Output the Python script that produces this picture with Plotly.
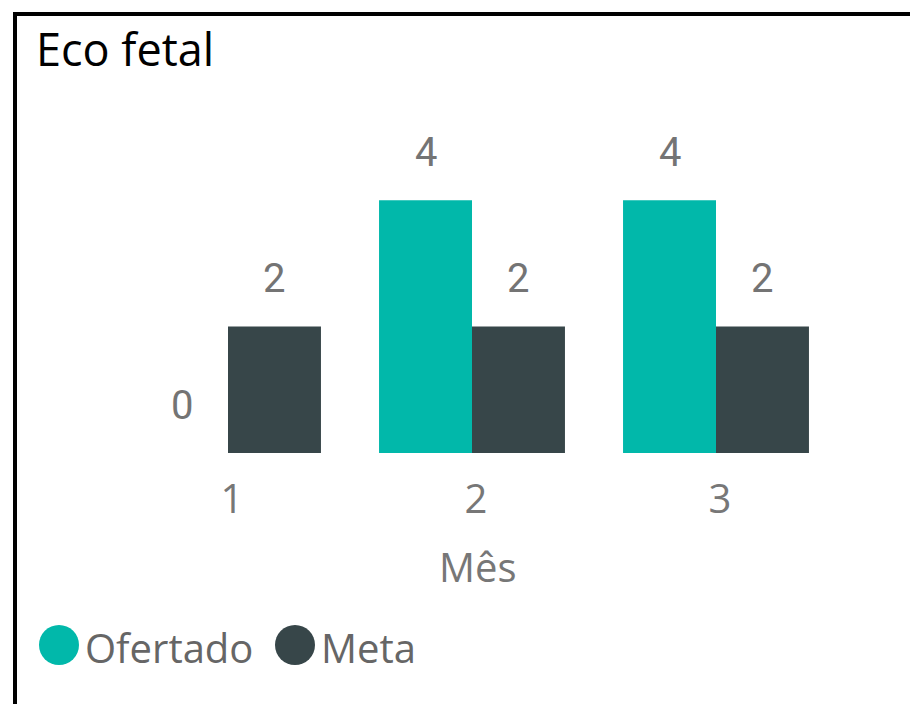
import plotly.graph_objects as go

meses = ["1", "2", "3"]
ofertado = [0, 4, 4]
meta = [2, 2, 2]
series_names = ["Ofertado", "Meta"]
series_colors = ["#01B8AA", "#374649"]
x_title = "Mês"

OFF = 8  # default page body margin
W, H = 918 - OFF, 704 - OFF
# target plot area in screen pixels: x 106..838, y 137..453
L, T = 106 - OFF, 137 - OFF
R = W - (838 - OFF)
B = H - (453 - OFF)
pw, ph = W - L - R, H - T - B

def px_x(p):
    return (p - OFF - L) / pw

def px_y(p):
    return (H - B - (p - OFF)) / ph

fig = go.Figure()
for name, vals, col in zip(series_names, [ofertado, meta], series_colors):
    fig.add_trace(go.Bar(x=meses, y=vals, name=name, marker=dict(color=col, line=dict(width=0)),
                         showlegend=False, hoverinfo="skip"))

half = pw / 3 * (1 - 0.238) / 4
for vals, sh in [(ofertado, -half), (meta, half)]:
    for i, v in enumerate(vals):
        fig.add_annotation(x=i, y=v, xref="x", yref="y", text=str(v), showarrow=False,
                           xshift=sh, yshift=48, font=dict(family="Roboto", size=40, color="#747474"))

# x axis title
fig.add_annotation(xref="paper", yref="paper", x=px_x(478), y=px_y(566), xanchor="center", yanchor="middle",
                   text=x_title, showarrow=False, font=dict(family="Open Sans", size=40, color="#777777"))

# legend (manual, circular markers)
legend_items = [(series_names[0], series_colors[0], 59), (series_names[1], series_colors[1], 295)]
for name, col, cx in legend_items:
    r = 20
    fig.add_shape(type="circle", xref="paper", yref="paper",
                  x0=px_x(cx - r), x1=px_x(cx + r), y0=px_y(645 + r), y1=px_y(645 - r),
                  fillcolor=col, line=dict(width=0))
    fig.add_annotation(xref="paper", yref="paper", x=px_x(cx + r + 4), y=px_y(647), xanchor="left",
                       yanchor="middle", text=name, showarrow=False,
                       font=dict(family="Open Sans", size=40, color="#666666"))

# border (top + left)
fig.add_shape(type="line", xref="paper", yref="paper", x0=px_x(13), x1=px_x(940), y0=px_y(14), y1=px_y(14),
              line=dict(color="black", width=4))
fig.add_shape(type="line", xref="paper", yref="paper", x0=px_x(15), x1=px_x(15), y0=px_y(12), y1=px_y(720),
              line=dict(color="black", width=4))

fig.update_layout(
    width=W, height=H,
    margin=dict(l=L, r=R, t=T, b=B),
    paper_bgcolor="white", plot_bgcolor="white",
    barmode="group", bargap=0.238, bargroupgap=0,
    title=dict(text="Eco fetal", x=(38 - OFF - 2) / W, xref="container", xanchor="left",
               y=1 - (50 - OFF) / H, yref="container", yanchor="middle",
               font=dict(family="Open Sans", size=45, color="#000000")),
    xaxis=dict(type="category", range=[-0.5, 2.5], showline=False, showgrid=False, ticks="",
               tickfont=dict(family="Open Sans", size=40, color="#777777"), ticklabelstandoff=19,
               ticklabelshift=4),
    yaxis=dict(range=[0, 5], visible=False, showgrid=False, zeroline=False),
)

fig.write_html("out.html")
